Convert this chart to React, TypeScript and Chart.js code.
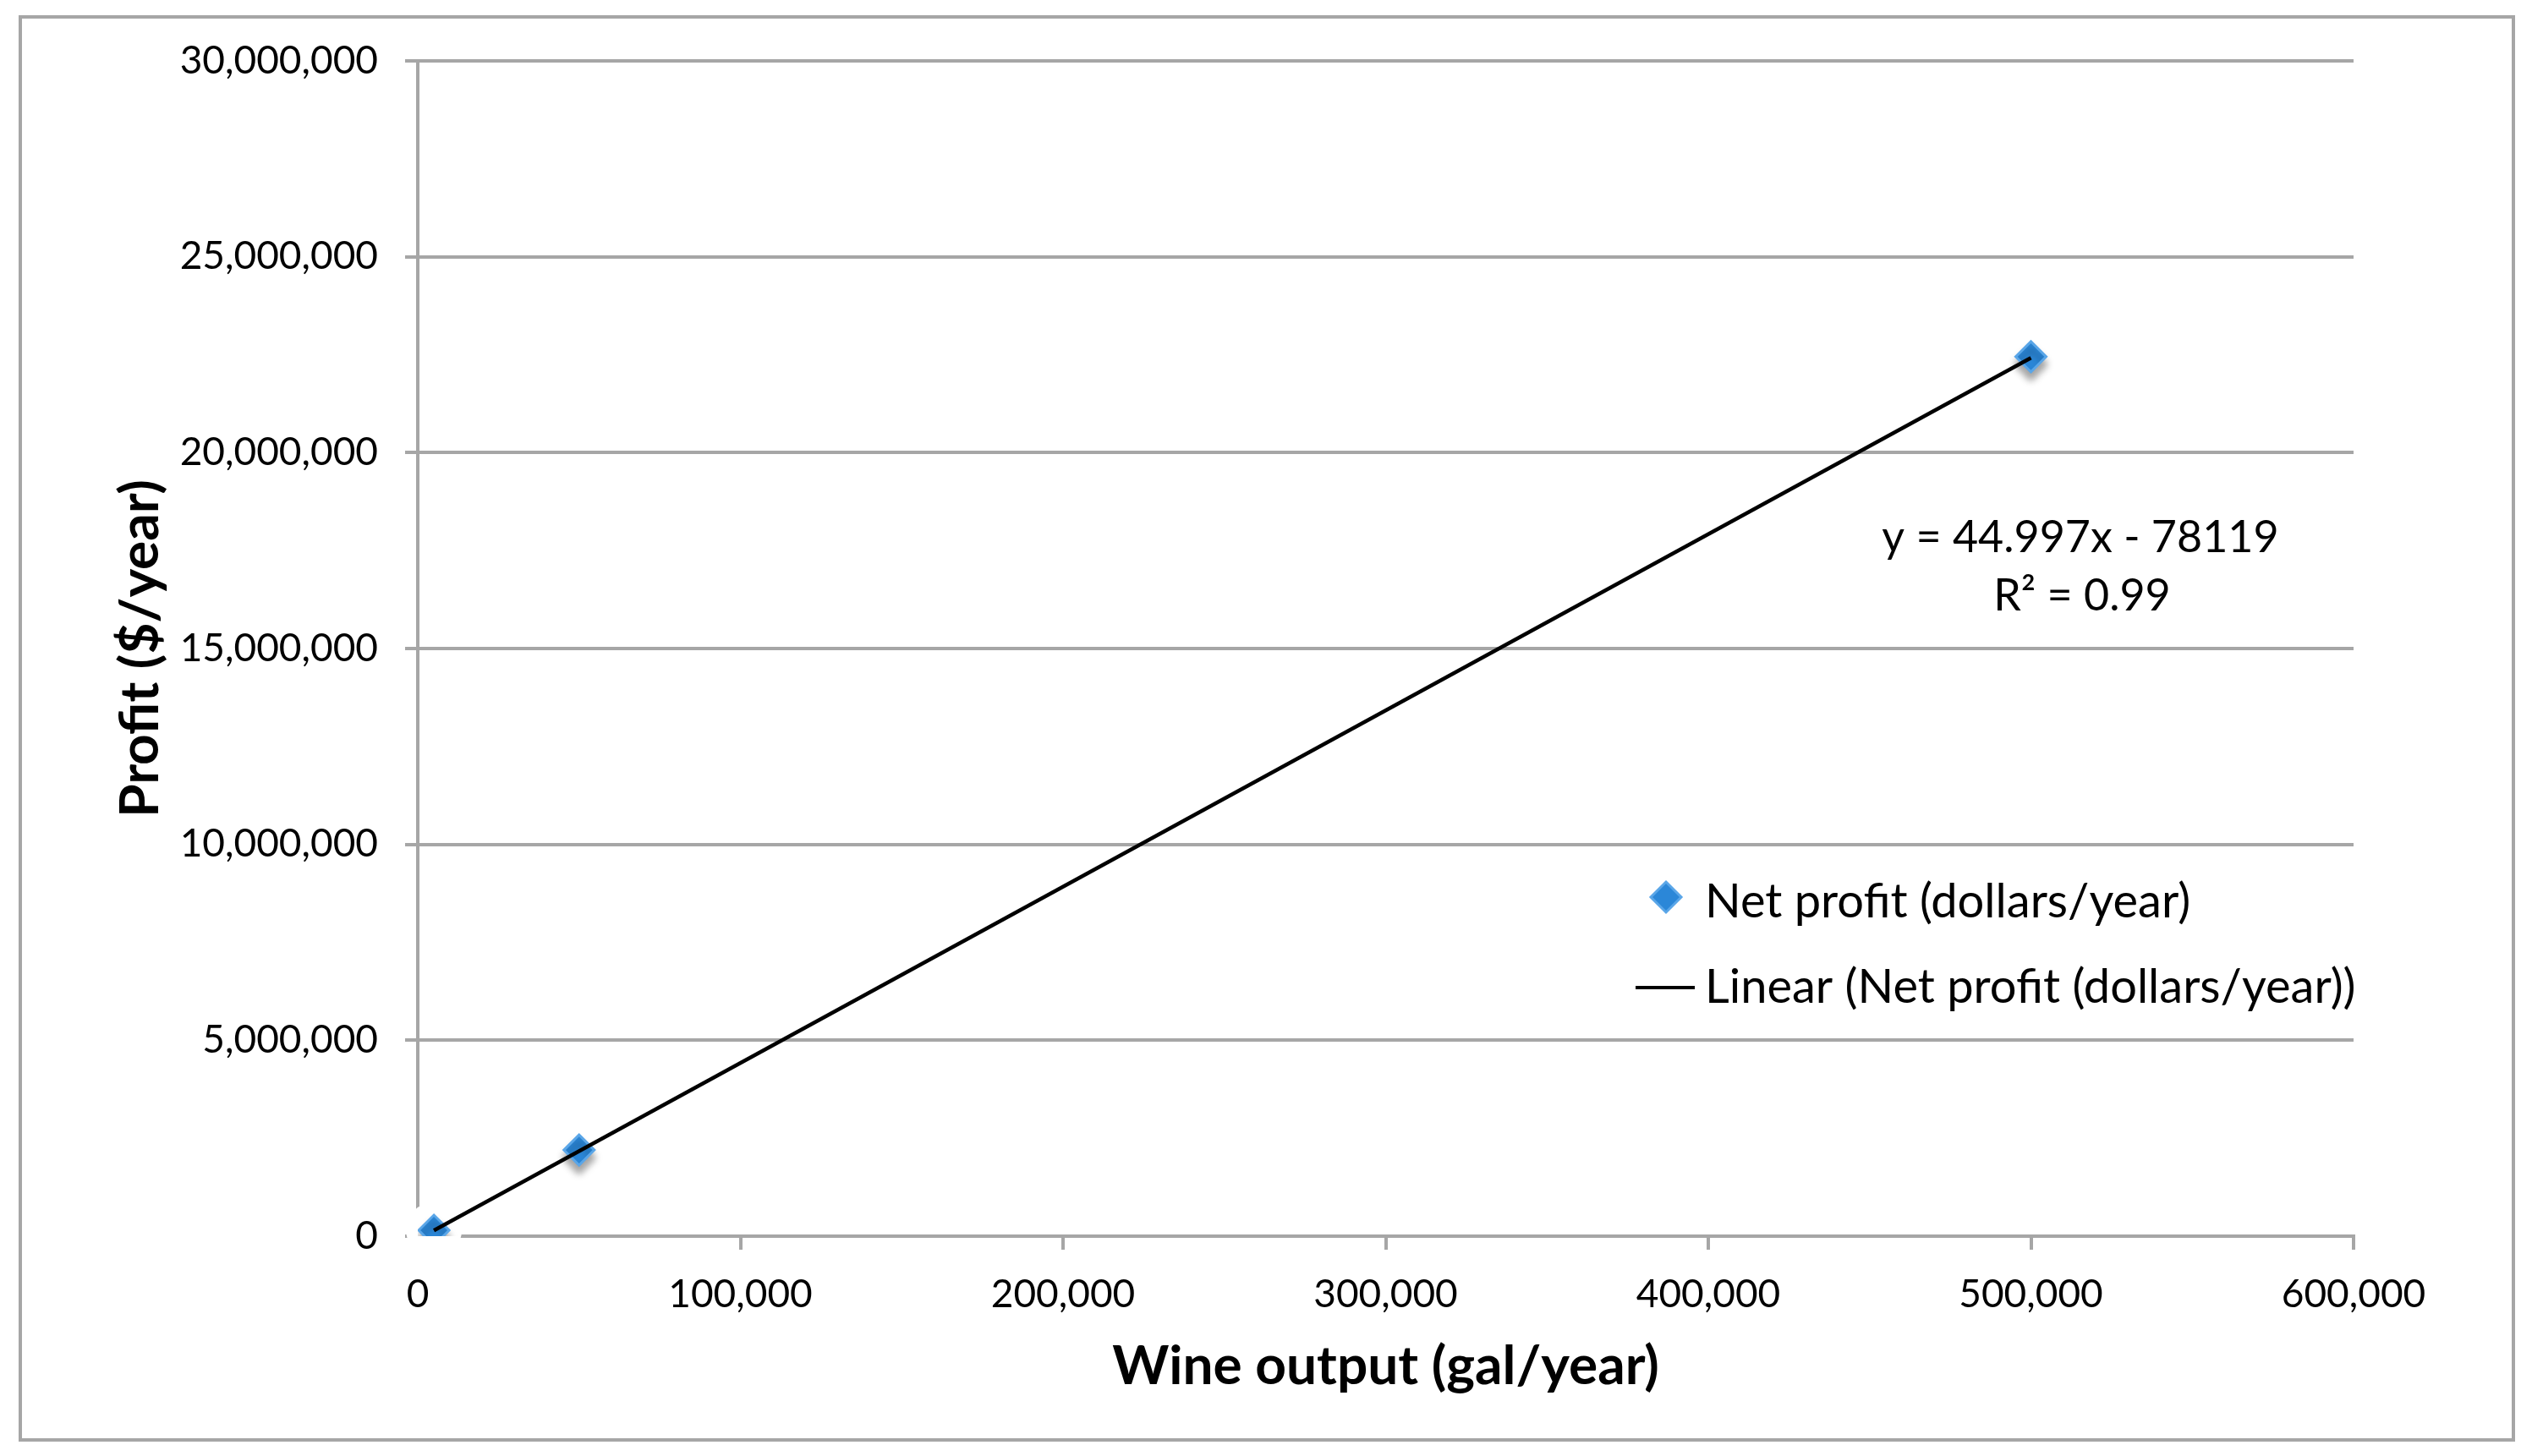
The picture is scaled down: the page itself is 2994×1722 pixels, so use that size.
import React, { useEffect, useRef } from 'react';
import { Chart, registerables } from 'chart.js';

Chart.register(...registerables);

// ---- data ----
const wineOutput = [5000, 50000, 500000];
const netProfit = [150000, 2200000, 22450000];
const trendX = [5000, 500000];
const trendY = [146866, 22420381];
const xTickValues = [0, 100000, 200000, 300000, 400000, 500000, 600000];
const yTickValues = [0, 5000000, 10000000, 15000000, 20000000, 25000000, 30000000];
const seriesName = 'Net profit (dollars/year)';
const trendName = 'Linear (Net profit (dollars/year))';
const equationLines = ['y = 44.997x - 78119', 'R² = 0.99'];
const xTitle = 'Wine output (gal/year)';
const yTitle = 'Profit ($/year)';

const W = 2994;
const H = 1722;
const FONT = 'Lato';
const GRAY = '#a6a6a6';
const TICK_SIZE = 46;
const TITLE_SIZE = 64;
const LEGEND_SIZE = 56;
const EQ_SIZE = 52;

const fmt = (v: number) => v.toLocaleString('en-US');

const decorPlugin = {
  id: 'decor',
  beforeDraw(chart: any) {
    const ctx = chart.ctx;
    ctx.save();
    ctx.fillStyle = '#ffffff';
    ctx.fillRect(0, 0, chart.width, chart.height);
    ctx.strokeStyle = GRAY;
    ctx.lineWidth = 4;
    ctx.strokeRect(24, 20, 2972 - 24, 1703 - 20);
    ctx.restore();
  },
  beforeDatasetsDraw(chart: any) {
    const ctx = chart.ctx;
    const meta = chart.getDatasetMeta(0);
    ctx.save();
    ctx.fillStyle = '#ffffff';
    meta.data.forEach((pt: any) => {
      ctx.beginPath();
      ctx.arc(pt.x, pt.y, 33, 0, Math.PI * 2);
      ctx.fill();
    });
    ctx.restore();
  },
  beforeDatasetDraw(chart: any, args: any) {
    if (args.index === 0) {
      const ctx = chart.ctx;
      ctx.save();
      ctx.shadowColor = 'rgba(0,0,0,0.35)';
      ctx.shadowBlur = 8;
      ctx.shadowOffsetY = 9;
    }
  },
  afterDatasetDraw(chart: any, args: any) {
    if (args.index === 0) chart.ctx.restore();
  },
  afterDatasetsDraw(chart: any) {
    const ctx = chart.ctx;
    ctx.save();
    ctx.fillStyle = '#000';
    ctx.textBaseline = 'middle';
    // equation
    ctx.font = `${EQ_SIZE}px ${FONT}`;
    ctx.textAlign = 'center';
    ctx.fillText(equationLines[0], 2460, 636);
    ctx.fillText(equationLines[1], 2462, 705);
    // legend
    ctx.font = `${LEGEND_SIZE}px ${FONT}`;
    ctx.textAlign = 'left';
    const mx = 1970, my = 1061, r = 18;
    ctx.beginPath();
    ctx.moveTo(mx, my - r);
    ctx.lineTo(mx + r, my);
    ctx.lineTo(mx, my + r);
    ctx.lineTo(mx - r, my);
    ctx.closePath();
    ctx.fillStyle = '#2b87d8';
    ctx.fill();
    ctx.strokeStyle = '#5aa6e8';
    ctx.lineWidth = 3;
    ctx.stroke();
    ctx.fillStyle = '#000';
    ctx.fillText(seriesName, 2016, 1067);
    ctx.beginPath();
    ctx.moveTo(1934, 1168);
    ctx.lineTo(2004, 1168);
    ctx.strokeStyle = '#000';
    ctx.lineWidth = 4;
    ctx.stroke();
    ctx.fillText(trendName, 2016, 1168);
    ctx.restore();
  },
};

export default function App() {
  const canvasRef = useRef<HTMLCanvasElement | null>(null);

  useEffect(() => {
    const canvas = canvasRef.current;
    if (!canvas) return;
    const chart = new Chart(canvas, {
      type: 'scatter',
      data: {
        datasets: [
          {
            label: seriesName,
            data: wineOutput.map((x, i) => ({ x, y: netProfit[i] })),
            pointStyle: 'rectRot',
            pointRadius: 18,
            pointHoverRadius: 18,
            pointBackgroundColor: '#2b87d8',
            pointBorderColor: '#5aa6e8',
            pointBorderWidth: 3,
            order: 1,
          },
          {
            label: trendName,
            data: trendX.map((x, i) => ({ x, y: trendY[i] })),
            showLine: true,
            borderColor: '#000',
            borderWidth: 4.5,
            pointRadius: 0,
            pointHoverRadius: 0,
            order: 0,
          },
        ],
      },
      options: {
        animation: false,
        responsive: false,
        maintainAspectRatio: false,
        layout: { padding: { left: 0, top: 72, right: 211, bottom: 0 } },
        plugins: {
          legend: { display: false },
          tooltip: { enabled: false },
        },
        scales: {
          x: {
            type: 'linear',
            min: 0,
            max: 600000,
            afterBuildTicks: (scale: any) => {
              scale.ticks = xTickValues.map((v) => ({ value: v }));
            },
            afterFit: (scale: any) => {
              scale.height = H - 1462;
            },
            ticks: {
              callback: (v: any) => fmt(Number(v)),
              font: { family: FONT, size: TICK_SIZE },
              color: '#000',
              padding: 26,
              maxRotation: 0,
              autoSkip: false,
            },
            grid: {
              drawOnChartArea: false,
              drawTicks: true,
              tickLength: 16,
              color: GRAY,
              lineWidth: 4,
            },
            border: { display: true, color: GRAY, width: 4 },
            title: {
              display: true,
              text: xTitle,
              color: '#000',
              font: { family: FONT, size: TITLE_SIZE, weight: 'bold' },
              padding: { top: 0, bottom: 67 },
            },
          },
          y: {
            type: 'linear',
            min: 0,
            max: 30000000,
            afterBuildTicks: (scale: any) => {
              scale.ticks = yTickValues.map((v) => ({ value: v }));
            },
            afterFit: (scale: any) => {
              scale.width = 494;
            },
            ticks: {
              callback: (v: any) => fmt(Number(v)),
              font: { family: FONT, size: TICK_SIZE },
              color: '#000',
              padding: 32,
              autoSkip: false,
            },
            grid: {
              drawTicks: true,
              tickLength: 15,
              color: GRAY,
              lineWidth: 4,
            },
            border: { display: true, color: GRAY, width: 4 },
            title: {
              display: true,
              text: yTitle,
              color: '#000',
              font: { family: FONT, size: TITLE_SIZE, weight: 'bold' },
              padding: { top: 128, bottom: 0 },
            },
          },
        },
      },
      plugins: [decorPlugin],
    } as any);
    return () => chart.destroy();
  }, []);

  return (
    <div style={{ position: 'fixed', left: 0, top: 0, width: W, height: H, background: '#fff' }}>
      <canvas ref={canvasRef} width={W} height={H} style={{ width: W, height: H, display: 'block' }} />
    </div>
  );
}
